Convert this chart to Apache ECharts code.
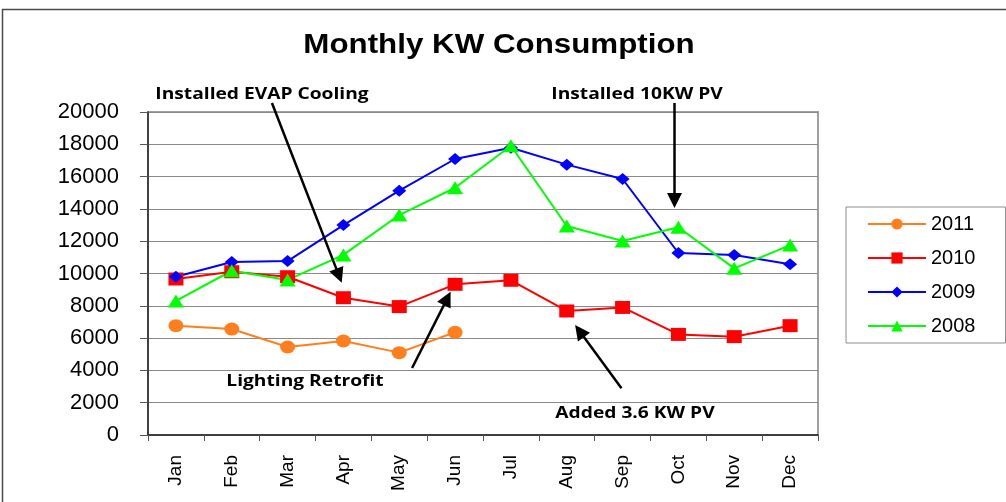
<!DOCTYPE html>
<html><head><meta charset="utf-8">
<script src="https://cdn.jsdelivr.net/npm/echarts@6/dist/echarts.min.js"></script>
<style>html,body{margin:0;padding:0;background:#fff}#c{width:1006px;height:502px}</style>
</head><body><div id="c"></div>
<script>
const months = ['Jan','Feb','Mar','Apr','May','Jun','Jul','Aug','Sep','Oct','Nov','Dec'];
const seriesNames = ['2011','2010','2009','2008'];
const kw2011 = [6770, 6560, 5450, 5820, 5100, 6360, null, null, null, null, null, null];
const kw2010 = [9660, 10110, 9800, 8500, 7950, 9330, 9580, 7680, 7900, 6230, 6090, 6770];
const kw2009 = [9800, 10710, 10770, 13000, 15130, 17090, 17790, 16740, 15850, 11270, 11150, 10570];
const kw2008 = [8300, 10170, 9600, 11150, 13620, 15310, 17910, 12940, 12010, 12860, 10320, 11760];
const yMin = 0, yMax = 20000, yStep = 2000;
const chartTitle = 'Monthly KW Consumption';

// annotations: text and arrow endpoints in data space [category index, kW]
const noteTexts = ['Installed EVAP Cooling', 'Lighting Retrofit', 'Installed 10KW PV', 'Added 3.6 KW PV'];
const arrowFrom = [[1.72, 20560], [4.23, 4150], [8.93, 20560], [7.98, 2890]];
const arrowTo   = [[2.97, 9430], [4.92, 8870], [8.93, 14060], [7.15, 6810]];

const chart = echarts.init(document.getElementById('c'), null, {renderer: 'canvas'});
const base = 'Liberation Sans, Arial, sans-serif';
const colors = ['#FF7F1E', '#FF0000', '#0000FF', '#00FF00'];
const symbols = ['circle', 'rect', 'diamond', 'triangle'];
const sizes = [[15, 13], [15, 13], [14, 12], [16, 13]];
const datasets = [kw2011, kw2010, kw2009, kw2008];

chart.setOption({
  animation: false,
  backgroundColor: '#fff',
  legend: {
    orient: 'vertical', left: 846, top: 207,
    data: seriesNames,
    itemWidth: 58, itemHeight: 14, itemGap: 14,
    padding: [7, 30, 7, 21],
    borderColor: '#8c8c8c', borderWidth: 1,
    textStyle: {fontFamily: base, fontSize: 20, color: '#000', lineHeight: 20}
  },
  grid: {left: 148, top: 112, right: 188, bottom: 67, show: true, borderColor: '#a0a0a0', borderWidth: 2, containLabel: false},
  xAxis: {
    type: 'category', data: months, boundaryGap: true,
    axisLine: {lineStyle: {color: '#222', width: 1.5}},
    axisTick: {show: true, length: 6, lineStyle: {color: '#555'}},
    axisLabel: {rotate: 90, margin: 20, fontFamily: base, fontSize: 19, color: '#000'},
    splitLine: {show: false}
  },
  yAxis: {
    type: 'value', min: yMin, max: yMax, interval: yStep,
    axisLine: {show: true, lineStyle: {color: '#222', width: 1.5}},
    axisTick: {show: true, length: 8, lineStyle: {color: '#555'}},
    axisLabel: {margin: 29, fontFamily: base, fontSize: 22, color: '#000', formatter: v => String(v)},
    splitLine: {show: true, lineStyle: {color: '#8a8a8a', width: 1}}
  },
  series: seriesNames.map((n, i) => ({
    name: n, type: 'line', data: datasets[i],
    symbol: symbols[i], symbolSize: sizes[i], showSymbol: true,
    connectNulls: false,
    lineStyle: {color: colors[i], width: 2},
    itemStyle: {color: colors[i], borderWidth: 0},
    emphasis: {disabled: true}
  }))
});

function px(pt) {
  const i0 = Math.floor(pt[0]);
  const a = chart.convertToPixel({gridIndex: 0}, [i0, pt[1]]);
  const b = chart.convertToPixel({gridIndex: 0}, [i0 + 1, pt[1]]);
  const f = pt[0] - i0;
  return [a[0] + f * (b[0] - a[0]), a[1]];
}
const graphics = [{
  type: 'rect', z: -10, silent: true,
  shape: {x: 2.5, y: 9.5, width: 1100, height: 600},
  style: {fill: 'none', stroke: '#4a4a4a', lineWidth: 1.5}
}, {
  type: 'text', silent: true, z: 60, x: 499, y: 46, scaleX: 1.16,
  style: {text: chartTitle, fill: '#000', font: 'bold 27px "Liberation Sans", Arial, sans-serif', align: 'center', verticalAlign: 'middle'}
}];
arrowFrom.forEach((f, k) => {
  const p0 = px(f), p1 = px(arrowTo[k]);
  const dx = p1[0] - p0[0], dy = p1[1] - p0[1];
  const L = Math.hypot(dx, dy), ux = dx / L, uy = dy / L;
  const hl = 15, hw = 7.5;
  const bx = p1[0] - ux * hl, by = p1[1] - uy * hl;
  graphics.push({type: 'line', silent: true, z: 50, shape: {x1: p0[0], y1: p0[1], x2: bx + ux * 2, y2: by + uy * 2}, style: {stroke: '#000', lineWidth: 2.5}});
  graphics.push({type: 'polygon', silent: true, z: 50, shape: {points: [[p1[0], p1[1]], [bx - uy * hw, by + ux * hw], [bx + uy * hw, by - ux * hw]]}, style: {fill: '#000'}});
});
const notePos = [[262, 94], [305, 381], [637, 94], [635, 413]];
noteTexts.forEach((t, k) => {
  graphics.push({type: 'text', silent: true, z: 60, x: notePos[k][0], y: notePos[k][1], scaleX: 1.2,
    style: {text: t, fill: '#000', font: 'bold 16px "Open Sans", sans-serif', align: 'center', verticalAlign: 'middle'}});
});
chart.setOption({graphic: graphics});
</script>
</body></html>
